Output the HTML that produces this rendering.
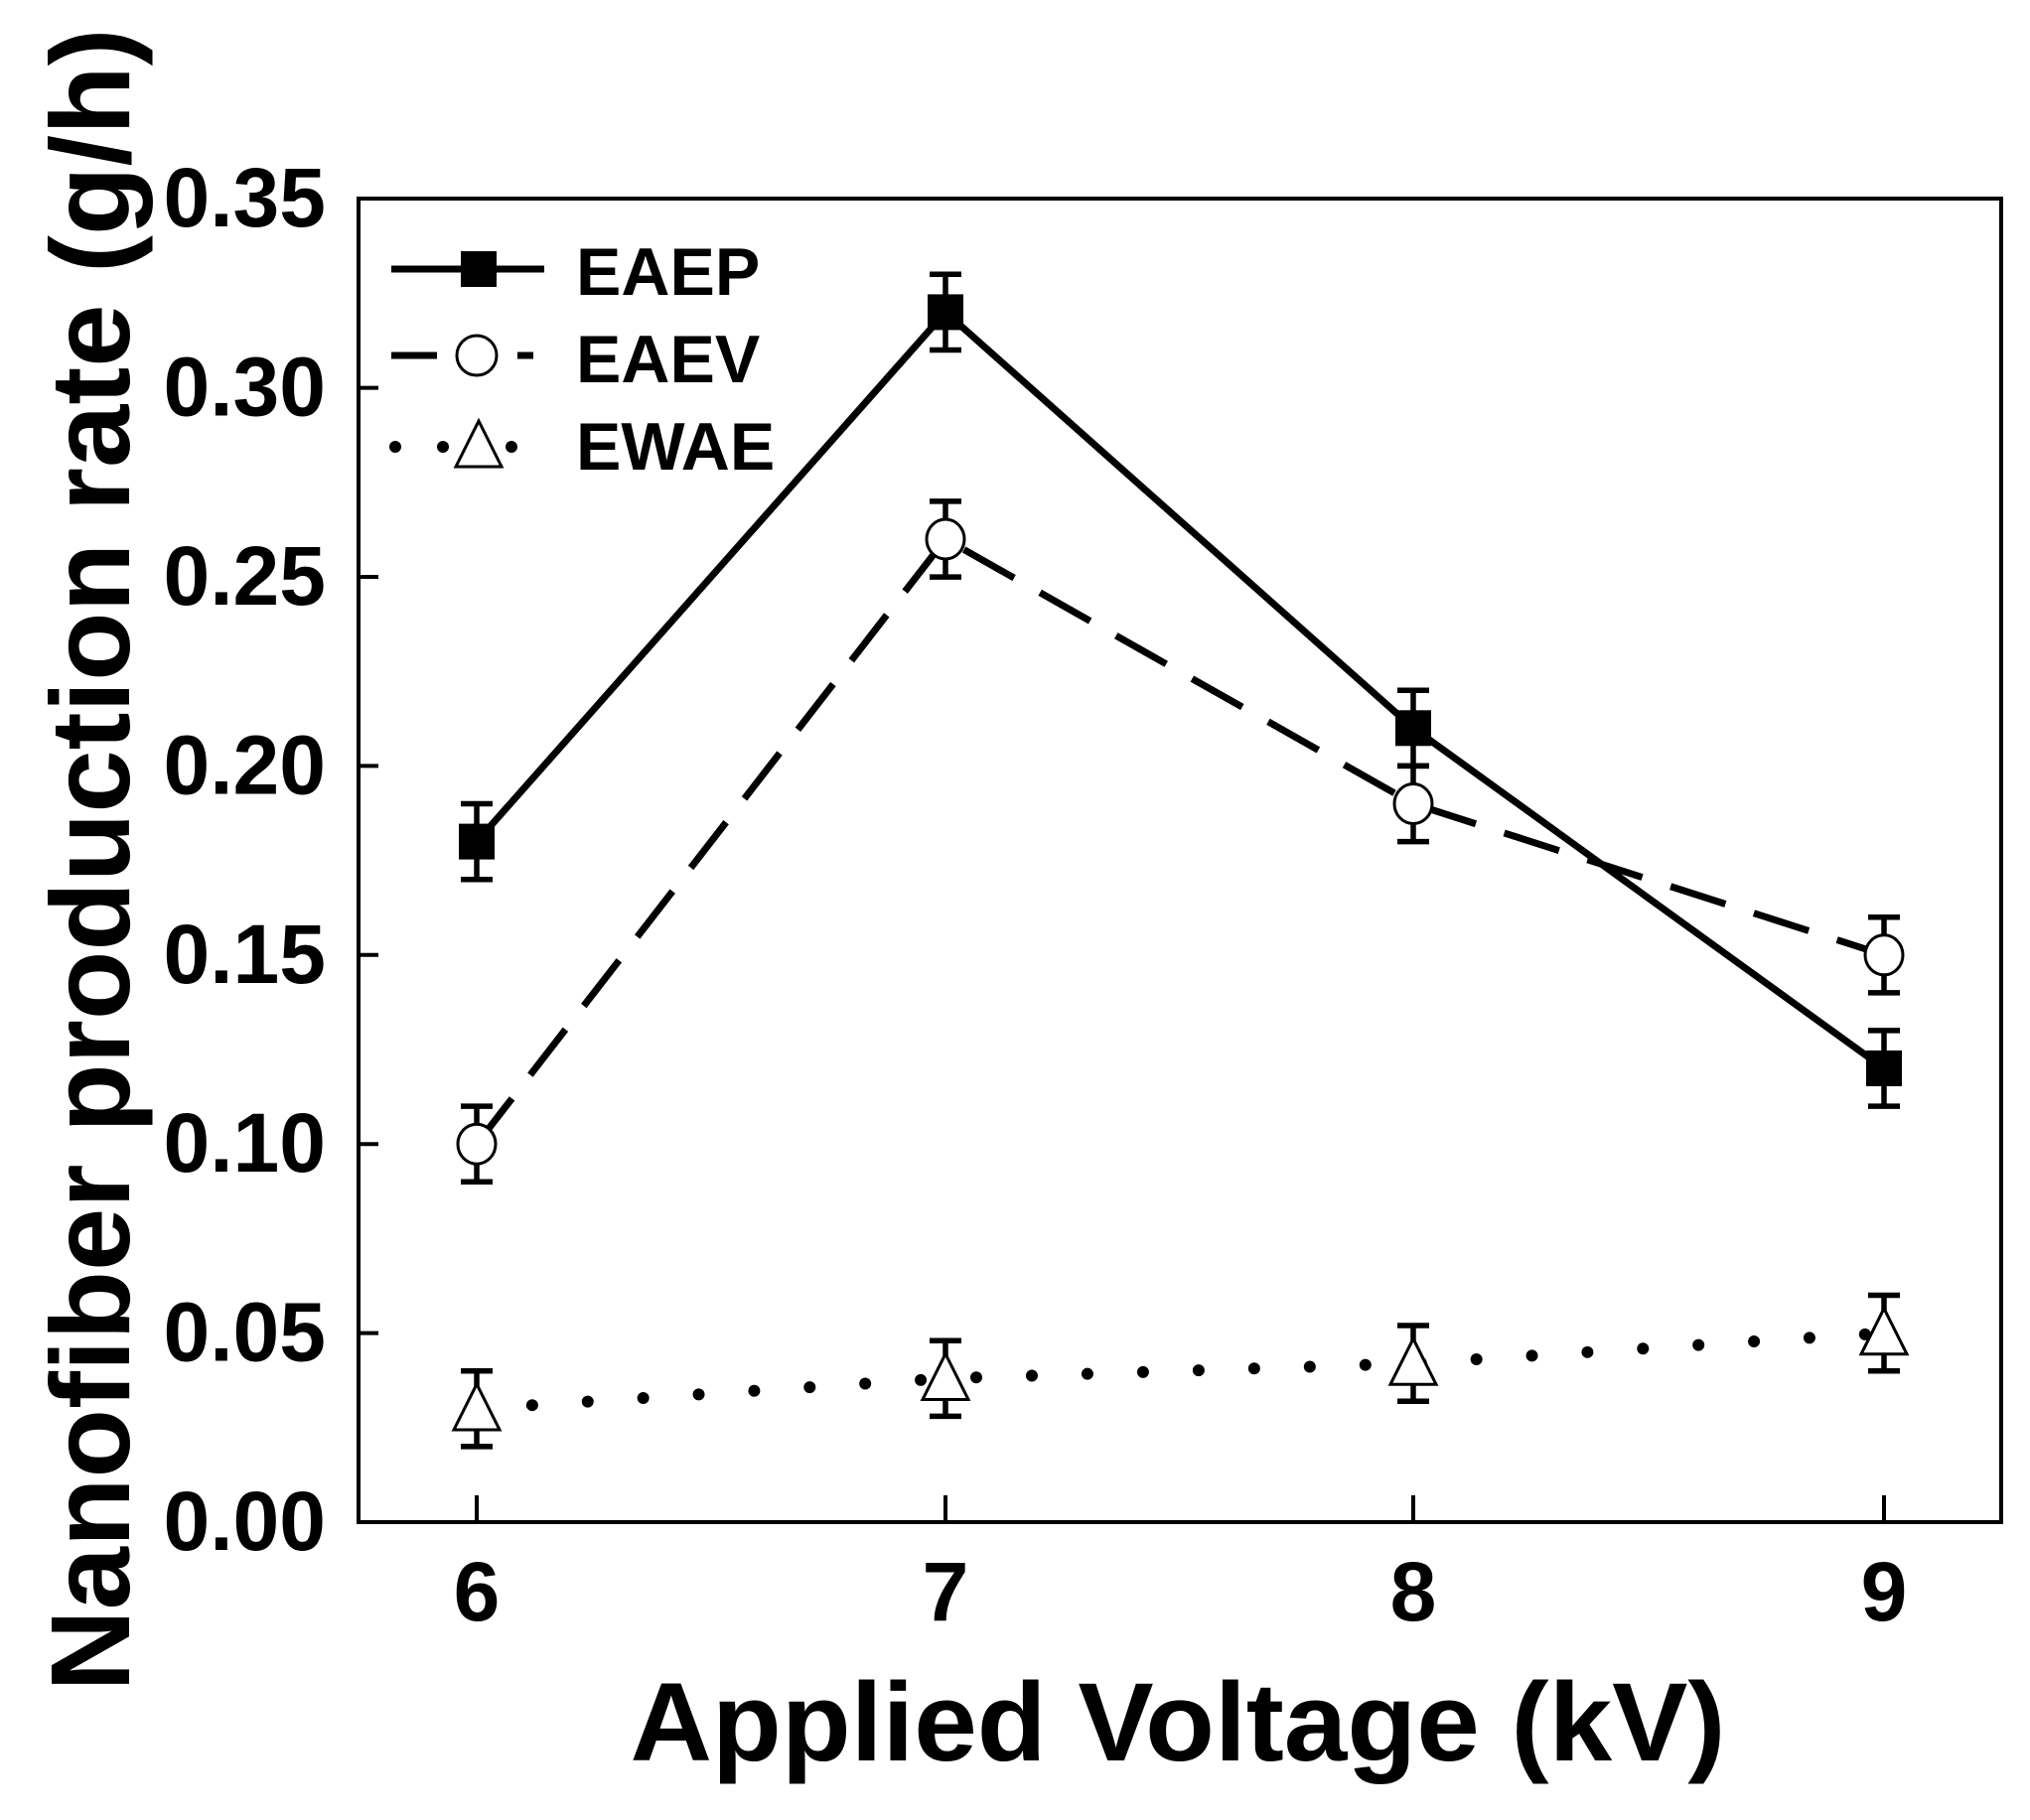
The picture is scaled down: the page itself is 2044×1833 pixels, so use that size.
<!DOCTYPE html>
<html><head><meta charset="utf-8"><style>html,body{margin:0;padding:0;background:#fff}svg{display:block}</style></head>
<body>
<svg width="2044" height="1833" viewBox="0 0 2044 1833" xmlns="http://www.w3.org/2000/svg" font-family="'Liberation Sans', Arial, sans-serif" font-weight="bold">
<rect width="2044" height="1833" fill="#fff"/>
<rect x="361" y="200" width="1654" height="1333" fill="none" stroke="#000" stroke-width="4"/>
<g stroke="#000" stroke-width="4">
<line x1="480" y1="1533" x2="480" y2="1506"/>
<line x1="952" y1="1533" x2="952" y2="1506"/>
<line x1="1423" y1="1533" x2="1423" y2="1506"/>
<line x1="1897" y1="1533" x2="1897" y2="1506"/>
<line x1="361" y1="1342.6" x2="381" y2="1342.6"/>
<line x1="361" y1="1152.2" x2="381" y2="1152.2"/>
<line x1="361" y1="961.8" x2="381" y2="961.8"/>
<line x1="361" y1="771.4" x2="381" y2="771.4"/>
<line x1="361" y1="581" x2="381" y2="581"/>
<line x1="361" y1="390.6" x2="381" y2="390.6"/>
</g>
<g font-size="84" text-anchor="end">
<text x="328" y="228">0.35</text>
<text x="328" y="418.6">0.30</text>
<text x="328" y="609">0.25</text>
<text x="328" y="799.4">0.20</text>
<text x="328" y="989.8">0.15</text>
<text x="328" y="1180.2">0.10</text>
<text x="328" y="1370.6">0.05</text>
<text x="328" y="1561">0.00</text>
</g>
<g font-size="84" text-anchor="middle">
<text x="480" y="1632">6</text>
<text x="952" y="1632">7</text>
<text x="1423" y="1632">8</text>
<text x="1897" y="1632">9</text>
</g>
<text x="1186" y="1773" font-size="112" text-anchor="middle" textLength="1103" lengthAdjust="spacingAndGlyphs">Applied Voltage (kV)</text>
<text transform="translate(130,866) rotate(-90)" font-size="113" text-anchor="middle" textLength="1675" lengthAdjust="spacingAndGlyphs">Nanofiber production rate (g/h)</text>

<g stroke="#000" stroke-width="5.5" fill="none">
<path d="M480 809.5V885.7M464 809.5H496M464 885.7H496"/>
<path d="M952 276.3V352.5M936 276.3H968M936 352.5H968"/>
<path d="M1423 695.2V771.4M1407 695.2H1439M1407 771.4H1439"/>
<path d="M1897 1037.9V1114.1M1881 1037.9H1913M1881 1114.1H1913"/>
<path d="M480 1114.1V1190.3M464 1114.1H496M464 1190.3H496"/>
<path d="M952 504.9V581.1M936 504.9H968M936 581.1H968"/>
<path d="M1423 771.4V847.6M1407 771.4H1439M1407 847.6H1439"/>
<path d="M1897 923.7V999.9M1881 923.7H1913M1881 999.9H1913"/>
<path d="M480 1380.7V1456.9M464 1380.7H496M464 1456.9H496"/>
<path d="M952 1350.2V1426.4M936 1350.2H968M936 1426.4H968"/>
<path d="M1423 1335V1411.2M1407 1335H1439M1407 1411.2H1439"/>
<path d="M1897 1304.5V1380.7M1881 1304.5H1913M1881 1380.7H1913"/>
</g>
<polyline points="480,847.6 952,314.4 1423,733.3 1897,1076" fill="none" stroke="#000" stroke-width="7"/>
<polyline points="480,1152.2 952,543 1423,809.5 1897,961.8" fill="none" stroke="#000" stroke-width="7" stroke-dasharray="58 30"/>
<polyline points="480,1418.8 952,1388.3 1423,1373.1 1897,1342.6" fill="none" stroke="#000" stroke-width="12" stroke-linecap="round" stroke-dasharray="0 56"/>
<g fill="#000">
<rect x="462" y="829.6" width="36" height="36"/>
<rect x="934" y="296.4" width="36" height="36"/>
<rect x="1405" y="715.3" width="36" height="36"/>
<rect x="1879" y="1058" width="36" height="36"/>
</g>
<g fill="#fff" stroke="#000" stroke-width="3">
<ellipse cx="480" cy="1152.2" rx="19" ry="20"/>
<ellipse cx="952" cy="543" rx="19" ry="20"/>
<ellipse cx="1423" cy="809.5" rx="19" ry="20"/>
<ellipse cx="1897" cy="961.8" rx="19" ry="20"/>
<path d="M480 1394 L503 1440 L457 1440Z"/>
<path d="M952 1363.5 L975 1409.5 L929 1409.5Z"/>
<path d="M1423 1348.3 L1446 1394.3 L1400 1394.3Z"/>
<path d="M1897 1317.8 L1920 1363.8 L1874 1363.8Z"/>
</g>
<line x1="394" y1="271" x2="548" y2="271" stroke="#000" stroke-width="7"/>
<rect x="464" y="253" width="36" height="36" fill="#000"/>
<line x1="394" y1="358" x2="440" y2="358" stroke="#000" stroke-width="7"/>
<line x1="521" y1="358" x2="537" y2="358" stroke="#000" stroke-width="7"/>
<circle cx="480" cy="358" r="20" fill="#fff" stroke="#000" stroke-width="3"/>
<g fill="#000"><circle cx="398" cy="450" r="6"/><circle cx="446" cy="450" r="6"/><circle cx="515" cy="450" r="6"/></g>
<path d="M482 424 L505 470 L459 470Z" fill="#fff" stroke="#000" stroke-width="3"/>
<g font-size="68">
<text x="580" y="297">EAEP</text>
<text x="580" y="385">EAEV</text>
<text x="580" y="473">EWAE</text>
</g>
</svg>
</body></html>
